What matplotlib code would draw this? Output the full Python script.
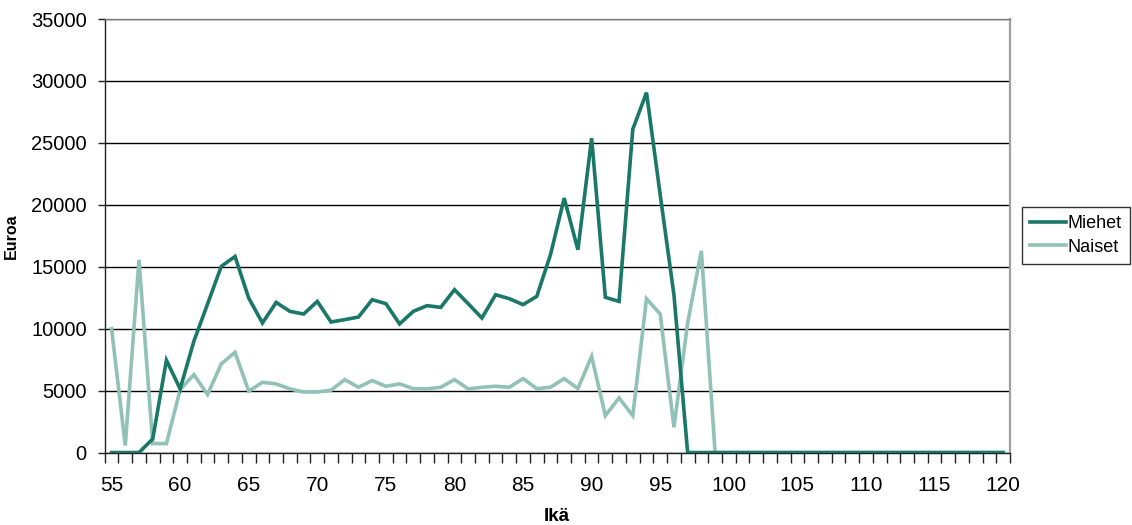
import matplotlib.pyplot as plt

plt.rcParams['font.family'] = ['Liberation Sans', 'DejaVu Sans']

ika = list(range(55, 121))

miehet = [0, 0, 0, 1100, 7450, 5140, 8980, 12000, 15030, 15830,
          12470, 10460, 12120, 11400, 11180, 12200, 10540, 10730, 10940, 12340,
          12020, 10380, 11400, 11860, 11720, 13150, 12020, 10860, 12740, 12420,
          11940, 12610, 15970, 20540, 16370, 25380, 12530, 12200, 26100, 29060,
          20800, 12740] + [0] * 24

naiset = [10000, 565, 15565, 725, 725, 5080, 6290, 4680, 7160, 8090,
          4950, 5670, 5540, 5140, 4890, 4890, 5030, 5890, 5270, 5810,
          5350, 5540, 5160, 5140, 5270, 5890, 5140, 5270, 5350, 5270,
          5970, 5160, 5270, 5970, 5160, 7770, 2980, 4410, 2980, 12420,
          11180, 2040, 10460, 16290] + [0] * 22

tick_labels = [str(a) for a in ika if a % 5 == 0]

fig = plt.figure(figsize=(11.32, 5.25), dpi=100)
ax = fig.add_axes([0.0925, 0.138, 0.7997, 0.8258])

x = list(range(len(ika)))
ax.plot(x, miehet, color='#1a7868', lw=2.6, label='Miehet', solid_joinstyle='miter', zorder=3)
ax.plot(x, naiset, color='#91c1b7', lw=2.6, label='Naiset', solid_joinstyle='miter', zorder=2)

ax.set_xlim(-0.5, len(ika) - 0.5)
ax.set_ylim(0, 35000)

# category axis: labels every 5 years, tick marks between categories
ax.set_xticks([i for i, a in enumerate(ika) if a % 5 == 0])
ax.set_xticklabels(tick_labels)
ax.set_xticks([i - 0.5 for i in range(len(ika) + 1)], minor=True)
ax.tick_params(axis='x', which='major', length=0, labelsize=15, pad=17)
ax.tick_params(axis='x', which='minor', length=7, width=1, direction='out', color='#202020')

ax.set_yticks(range(0, 35001, 5000))
ax.tick_params(axis='y', length=5, width=1, direction='out', labelsize=14.5, pad=8, color='#202020')

ax.grid(axis='y', color='black', lw=1)
ax.set_axisbelow(True)

for side in ('left', 'bottom'):
    ax.spines[side].set_color('#202020')
    ax.spines[side].set_linewidth(1)
ax.spines['top'].set_color('#808080')
ax.spines['top'].set_linewidth(1)
ax.spines['right'].set_color('#a0a0a0')
ax.spines['right'].set_linewidth(1.6)

fig.text(0.4922, 0.016, 'Ikä', fontsize=13.5, fontweight='bold', ha='center', va='center')
ax.set_ylabel('Euroa', fontsize=11.5, fontweight='bold', labelpad=9)

leg = fig.legend(loc='center', bbox_to_anchor=(0.9505, 0.5514), fontsize=13,
                 frameon=True, fancybox=False, handlelength=2.0, handletextpad=0.1,
                 borderpad=0.45, labelspacing=0.35, borderaxespad=0)
leg.get_frame().set_edgecolor('black')
leg.get_frame().set_linewidth(1)

fig.savefig('out.png', dpi=100)
